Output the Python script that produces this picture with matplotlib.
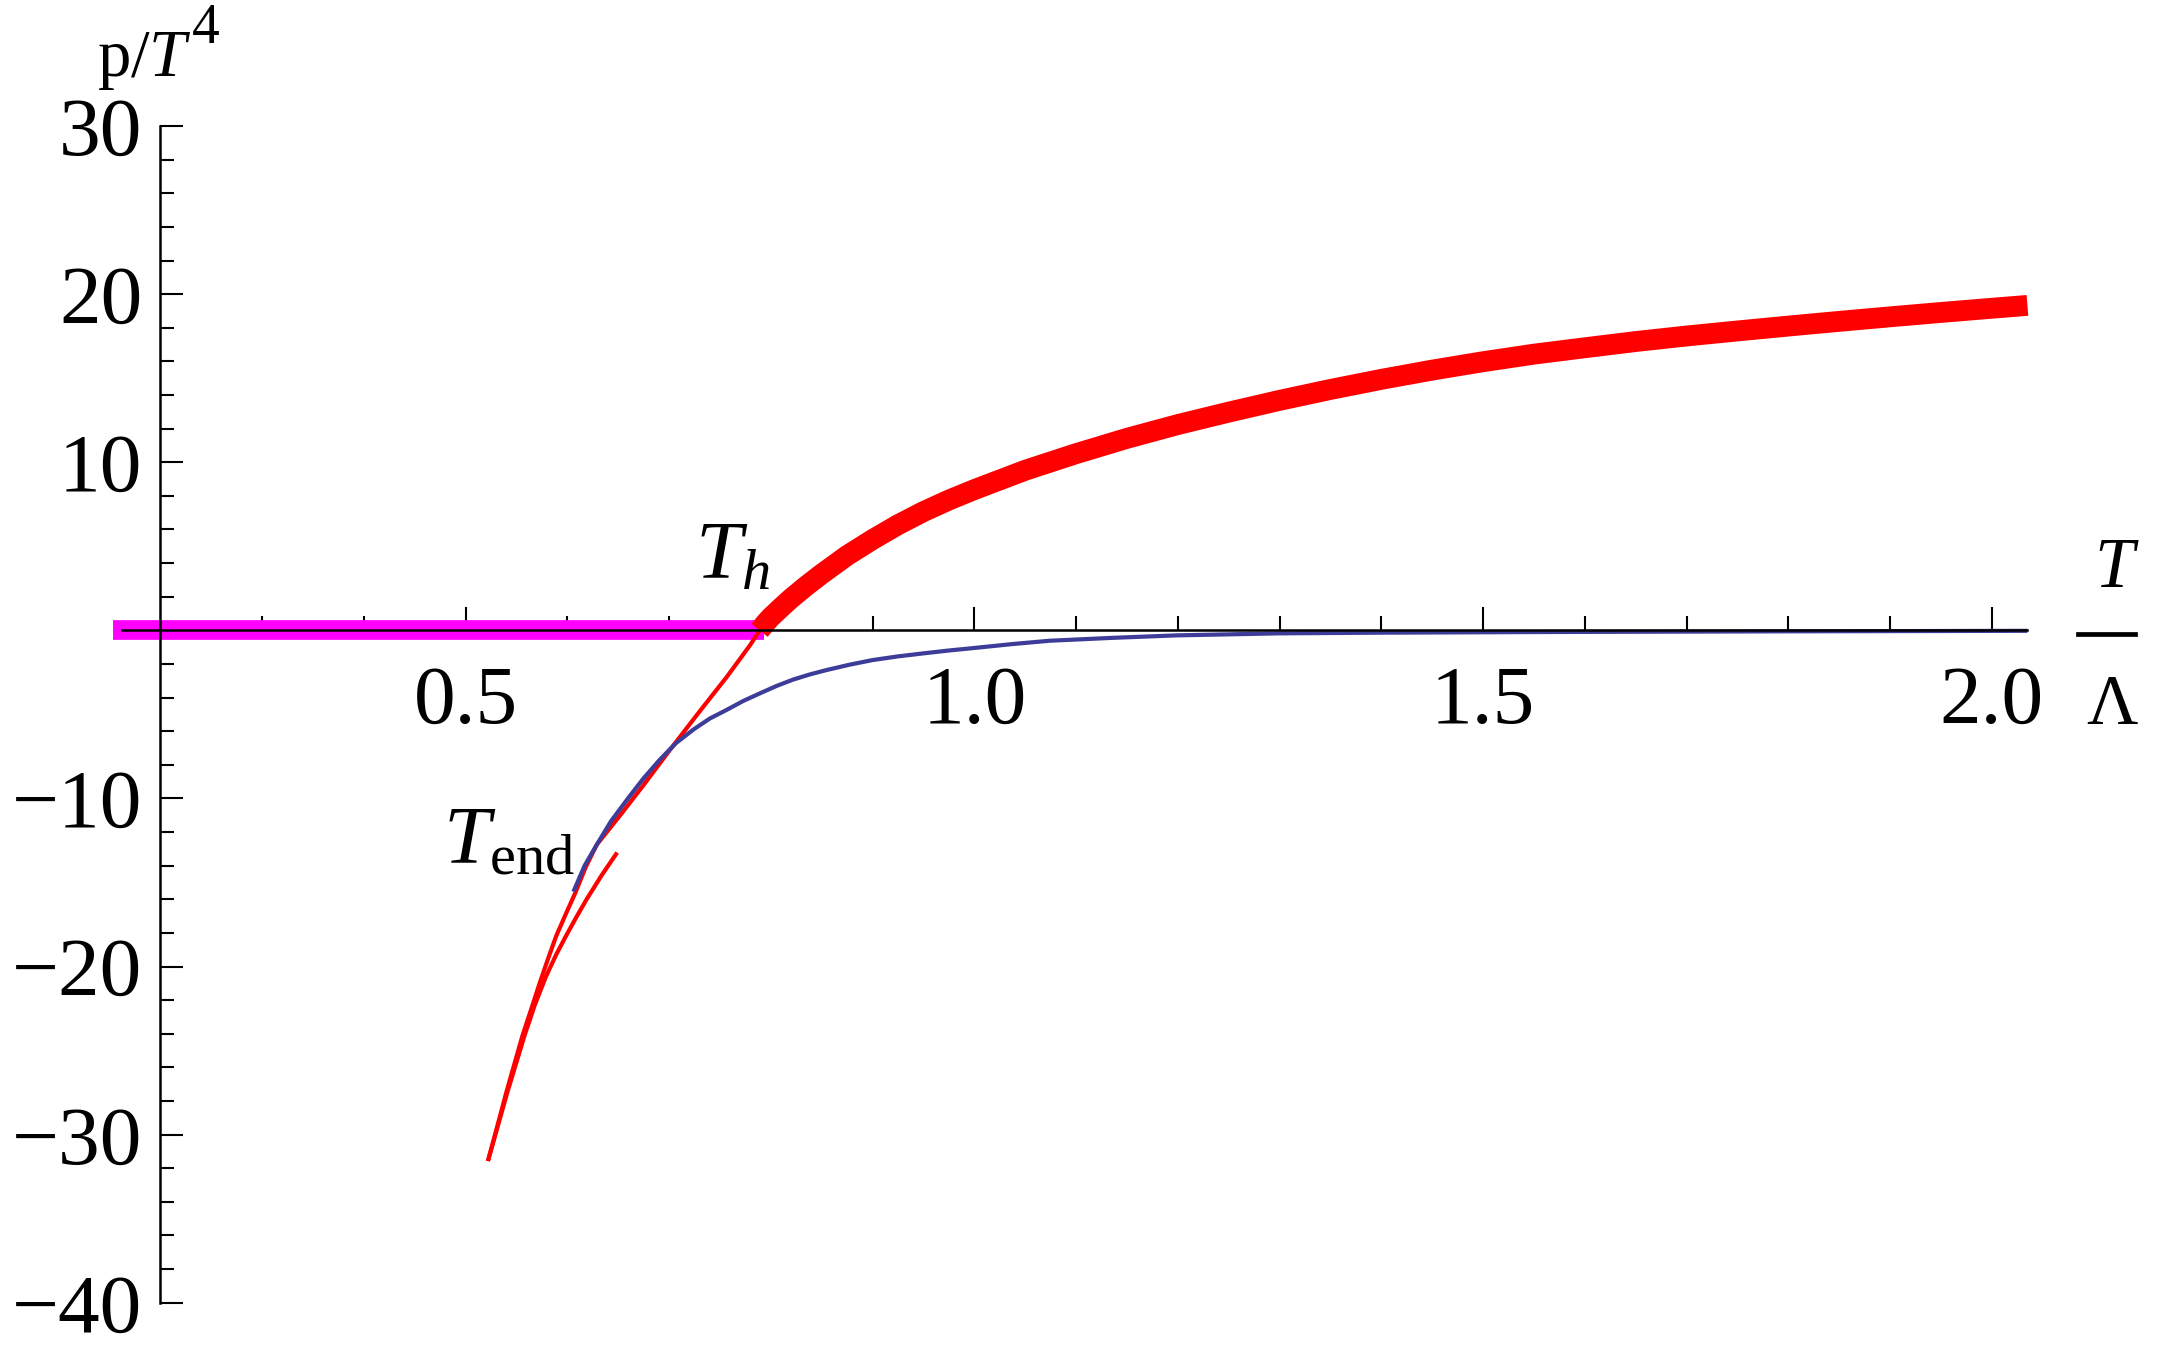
import matplotlib
matplotlib.use('Agg')
import matplotlib.pyplot as plt
import numpy as np
from matplotlib.lines import Line2D
from matplotlib.ticker import FixedLocator, FixedFormatter

plt.rcParams['font.family'] = ['Liberation Serif', 'DejaVu Serif']
plt.rcParams['mathtext.fontset'] = 'custom'
plt.rcParams['mathtext.rm'] = 'Liberation Serif'
plt.rcParams['mathtext.it'] = 'Liberation Serif:italic'

# ---------------- data ----------------
# confined (cold) phase: p/T^4 = 0 up to T_h
cold_T = [0.1535, 0.7933]
cold_p = [0.0, 0.0]

# stable hot branch (thick red)
hot_T = [0.789, 0.795, 0.800, 0.810, 0.820, 0.835, 0.850, 0.875, 0.900, 0.925,
         0.950, 0.975, 1.000, 1.050, 1.100, 1.150, 1.200, 1.250, 1.300, 1.350,
         1.400, 1.450, 1.500, 1.550, 1.600, 1.650, 1.700, 1.750, 1.800, 1.850,
         1.900, 1.950, 2.000, 2.035]
hot_p = [0.0, 0.45, 0.78, 1.35, 1.90, 2.65, 3.35, 4.45, 5.40, 6.28,
         7.06, 7.75, 8.37, 9.52, 10.51, 11.42, 12.24, 12.98, 13.68, 14.33,
         14.93, 15.48, 15.98, 16.43, 16.81, 17.18, 17.51, 17.81, 18.10, 18.38,
         18.65, 18.91, 19.16, 19.33]

# metastable branch below T_h (thin red)
meta_T = [0.522, 0.531, 0.540, 0.548, 0.556, 0.565, 0.573, 0.581, 0.589, 0.598,
          0.608, 0.618, 0.629, 0.652, 0.675, 0.701, 0.731, 0.757, 0.780, 0.789]
meta_p = [-31.57, -29.55, -27.5, -25.8, -24.1, -22.45, -20.96, -19.55, -18.2, -16.95,
          -15.6, -14.1, -12.75, -11.0, -9.2, -7.1, -4.75, -2.75, -0.85, 0.0]

# second thin red branch ending near T_end
branch_T = [0.522, 0.541, 0.558, 0.568, 0.579, 0.589, 0.599, 0.609, 0.619, 0.634, 0.649]
branch_p = [-31.57, -27.5, -24.1, -22.3, -20.6, -19.3, -18.15, -17.05, -16.0, -14.55, -13.22]

# blue curve
blue_T = [0.606, 0.617, 0.629, 0.643, 0.659, 0.675, 0.691, 0.707, 0.724, 0.740,
          0.757, 0.773, 0.790, 0.806, 0.822, 0.838, 0.855, 0.877, 0.900, 0.925,
          0.953, 0.975, 1.000, 1.037, 1.074, 1.135, 1.199, 1.250, 1.300, 1.400,
          1.566, 1.800, 2.035]
blue_p = [-15.55, -14.0, -12.75, -11.35, -10.05, -8.8, -7.69, -6.7, -5.9, -5.25,
          -4.72, -4.2, -3.73, -3.3, -2.93, -2.63, -2.36, -2.05, -1.77, -1.55,
          -1.35, -1.2, -1.05, -0.82, -0.62, -0.45, -0.30, -0.24, -0.18, -0.14,
          -0.10, -0.06, -0.03]

x_major = [0.5, 1.0, 1.5, 2.0]
x_labels = ["0.5", "1.0", "1.5", "2.0"]
y_major = [-40, -30, -20, -10, 10, 20, 30]
y_labels = ["\u221240", "\u221230", "\u221220", "\u221210", "10", "20", "30"]

# ---------------- figure ----------------
fig = plt.figure(figsize=(21.6, 13.51), dpi=100)
ax = fig.add_axes([0.03653, 0.01088, 0.92329, 0.9207])
ax.set_xlim(0.12, 2.08)
ax.set_ylim(-42, 32)

ax.plot(cold_T, cold_p, color='#FF00FF', lw=14.2, solid_capstyle='butt', zorder=2)
ax.plot(meta_T, meta_p, color='#FF0000', lw=3.0, solid_capstyle='butt',
        solid_joinstyle='round', zorder=2.1)
ax.plot(branch_T, branch_p, color='#FF0000', lw=3.0, solid_capstyle='butt',
        solid_joinstyle='round', zorder=2.1)
ax.plot(hot_T, hot_p, color='#FF0000', lw=15.0, solid_capstyle='butt',
        solid_joinstyle='round', zorder=2.2)
ax.plot(blue_T, blue_p, color='#3D3D99', lw=3.0, solid_capstyle='butt',
        solid_joinstyle='round', zorder=2.3)

for s in ['top', 'right']:
    ax.spines[s].set_visible(False)
ax.spines['left'].set_position(('data', 0.2))
ax.spines['left'].set_bounds(-40, 30)
ax.spines['bottom'].set_position(('data', 0))
ax.spines['bottom'].set_bounds(0.162, 2.035)
for s in ['left', 'bottom']:
    ax.spines[s].set_linewidth(1.8)
    ax.spines[s].set_zorder(3)

ax.xaxis.set_major_locator(FixedLocator(x_major))
ax.xaxis.set_major_formatter(FixedFormatter(x_labels))
x_minor = [v for v in np.round(np.arange(0.3, 2.01, 0.1), 2) if v not in x_major]
ax.xaxis.set_minor_locator(FixedLocator(x_minor))

ax.yaxis.set_major_locator(FixedLocator(y_major))
ax.yaxis.set_major_formatter(FixedFormatter(y_labels))
y_minor = [v for v in range(-38, 30, 2) if v % 10 != 0]
ax.yaxis.set_minor_locator(FixedLocator(y_minor))

ax.tick_params(which='major', direction='in', length=16.5, width=1.5, labelsize=60)
ax.tick_params(which='minor', direction='in', length=10, width=1.5)
ax.tick_params(axis='x', which='major', pad=25)
ax.tick_params(axis='y', which='major', pad=13)

# axis labels
fig.text(97/2160, 1-76/1351, r'$\mathrm{p}/T$', fontsize=48, ha='left', va='baseline')
fig.text(192/2160, 1-43/1351, '4', fontsize=40, ha='left', va='baseline')

fig.text(2114/2160, 1-587/1351, 'T', style='italic', fontsize=51, ha='center', va='baseline')
fig.text(2112/2160, 1-724/1351, '\u039b', fontsize=51, ha='center', va='baseline')
fig.add_artist(Line2D([2078/2160, 2135/2160], [1-633.5/1351]*2, lw=3.4, color='k',
                      transform=fig.transFigure))

# annotations
fig.text(695/2160, 1-578/1351, r'$T_h$', fontsize=60, ha='left', va='baseline')
fig.text(443/2160, 1-863/1351, r'$T_{\mathrm{end}}$', fontsize=60, ha='left', va='baseline')

fig.savefig('out.png', dpi=100, facecolor='white')
